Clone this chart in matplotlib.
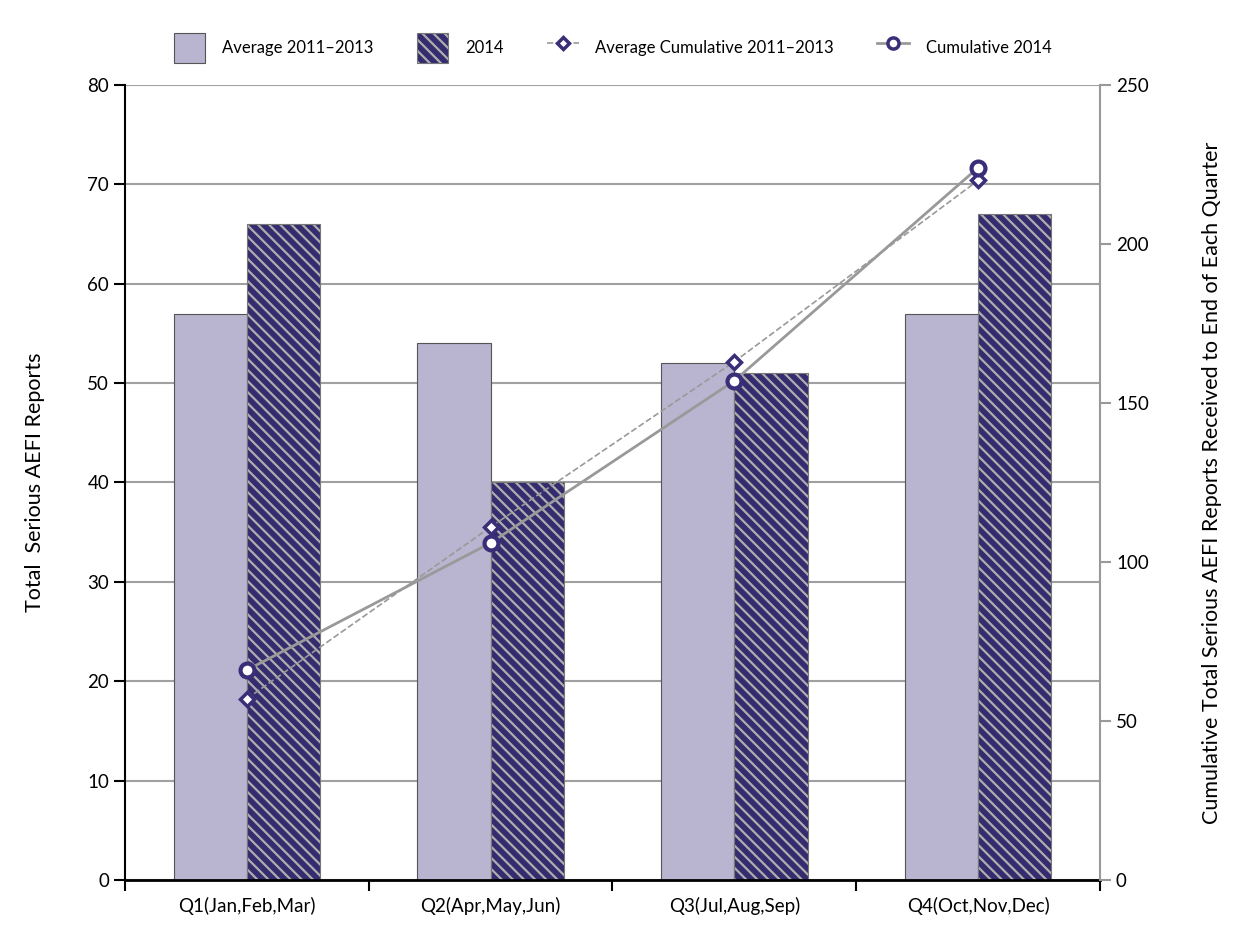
import numpy as np
import matplotlib
matplotlib.use("Agg")
import matplotlib.pyplot as plt
from matplotlib.lines import Line2D
from matplotlib.patches import Patch

plt.rcParams["font.family"] = ["Lato", "DejaVu Sans"]
plt.rcParams["hatch.linewidth"] = 1.6

quarters = ["Q1(Jan,Feb,Mar)", "Q2(Apr,May,Jun)", "Q3(Jul,Aug,Sep)", "Q4(Oct,Nov,Dec)"]
avg_2011_2013 = [57, 54, 52, 57]
reports_2014 = [66, 40, 51, 67]
avg_cumulative = [57, 111, 163, 220]
cumulative_2014 = [66, 106, 157, 224]

LIGHT = "#b9b4cf"
DARK = "#352b6f"
LINE_GRAY = "#999999"
MARK = "#3a2e78"
HATCH = matplotlib.colors.to_rgba("#adadad")

fig = plt.figure(figsize=(12.4, 9.51), dpi=100)
ax = fig.add_axes([0.1008, 0.0747, 0.7863, 0.8359])

x = np.arange(len(quarters))
w = 0.3

ax.bar(x - w / 2, avg_2011_2013, w, color=LIGHT, edgecolor="#555555", linewidth=0.8, zorder=2)
bars = ax.bar(x + w / 2, reports_2014, w, color=DARK, edgecolor="#777777", linewidth=0.8,
              hatch="\\\\\\", zorder=2)
for b in bars:
    b._hatch_color = HATCH

ax.set_xlim(-0.5, 3.5)
ax.set_ylim(0, 80)
ax.set_yticks(np.arange(0, 81, 10))
ax.grid(axis="y", color="#a0a0a0", linewidth=1.5, zorder=0)
ax.set_axisbelow(True)

ax.set_xticks(np.arange(-0.5, 3.6, 1))
ax.set_xticklabels([])
ax.set_xticks(x, minor=True)
ax.set_xticklabels(quarters, minor=True, fontsize=13.5)
ax.tick_params(axis="x", which="major", direction="out", length=8, width=1.5, color="black")
ax.tick_params(axis="x", which="minor", length=0, pad=12)
ax.tick_params(axis="y", direction="out", length=8, width=1.5, labelsize=13.5)

for s in ["top", "right"]:
    ax.spines[s].set_visible(False)
ax.spines["left"].set_linewidth(1.5)
ax.spines["bottom"].set_linewidth(2)

ax.set_ylabel("Total  Serious AEFI Reports", fontsize=15.5, labelpad=30)

ax2 = ax.twinx()
ax2.set_ylim(0, 250)
ax2.set_yticks(np.arange(0, 251, 50))
ax2.tick_params(axis="y", direction="out", length=8, width=1.5, color=LINE_GRAY, labelsize=13.5)
for s in ["top", "left", "bottom"]:
    ax2.spines[s].set_visible(False)
ax2.spines["right"].set_color(LINE_GRAY)
ax2.spines["right"].set_linewidth(1.5)
ax2.set_ylabel("Cumulative Total Serious AEFI Reports Received to End of Each Quarter",
               fontsize=15.5, labelpad=38)

ax2.plot(x, avg_cumulative, linestyle="--", color=LINE_GRAY, linewidth=1.2,
         marker="D", markersize=7, markerfacecolor="white", markeredgecolor=MARK,
         markeredgewidth=2.5, zorder=3)
ax2.plot(x, cumulative_2014, linestyle="-", color=LINE_GRAY, linewidth=2,
         marker="o", markersize=10, markerfacecolor="white", markeredgecolor=MARK,
         markeredgewidth=3, zorder=4)

handles = [
    Patch(facecolor=LIGHT, edgecolor="#555555", linewidth=0.8),
    Patch(facecolor=DARK, edgecolor="#777777", hatch="\\\\\\", linewidth=0.8),
    Line2D([], [], linestyle="--", color=LINE_GRAY, linewidth=1.2, marker="D", markersize=6,
           markerfacecolor="white", markeredgecolor=MARK, markeredgewidth=2.5),
    Line2D([], [], linestyle="-", color=LINE_GRAY, linewidth=2, marker="o", markersize=8,
           markerfacecolor="white", markeredgecolor=MARK, markeredgewidth=2.5),
]
labels = ["Average 2011\u20132013", "2014", "Average Cumulative 2011\u20132013", "Cumulative 2014"]
leg = fig.legend(handles, labels, loc="center", bbox_to_anchor=(0.494, 0.95), ncol=4,
                 frameon=False, fontsize=12, handlelength=1.9, handleheight=2.4,
                 columnspacing=2.6, handletextpad=1.0)
leg.legend_handles[1]._hatch_color = HATCH

fig.savefig("out.png", dpi=100)
